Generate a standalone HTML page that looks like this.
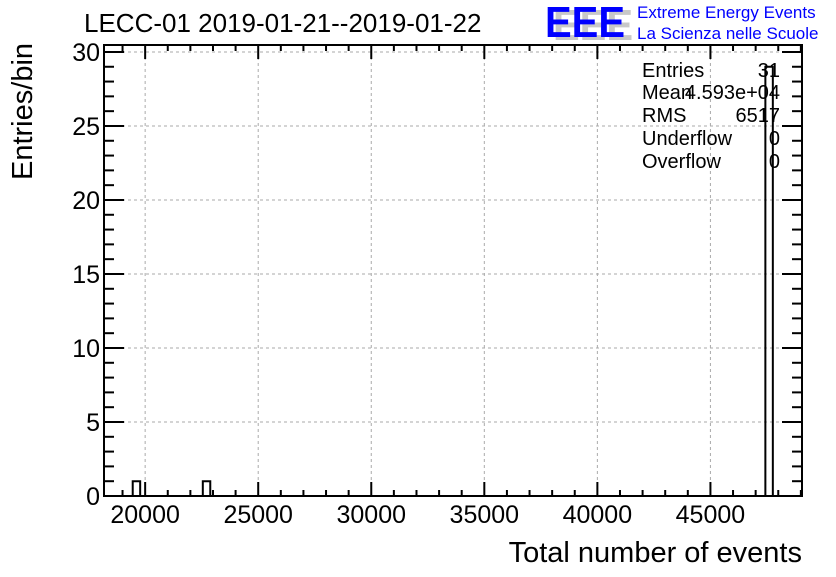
<!DOCTYPE html>
<html><head><meta charset="utf-8"><style>
body{margin:0;background:#fff;}
svg text{font-family:"Liberation Sans",sans-serif;}
</style></head><body>
<svg id="c" width="836" height="572" xmlns="http://www.w3.org/2000/svg">
<rect width="836" height="572" fill="#fff"/>
<text x="84" y="32" font-size="26">LECC-01 2019-01-21--2019-01-22</text>
<g>
<text x="553" y="40" font-size="44" font-weight="bold" fill="#c8c8c8" textLength="80" lengthAdjust="spacingAndGlyphs">EEE</text>
<text x="545" y="37" font-size="44" font-weight="bold" fill="#0000ff" textLength="80" lengthAdjust="spacingAndGlyphs">EEE</text>
<text x="637" y="18" font-size="17" fill="#0000ff">Extreme Energy Events</text>
<text x="637" y="39" font-size="17" fill="#0000ff">La Scienza nelle Scuole</text>
</g>
<g id="grid"></g>
<g id="bars"></g>
<g id="axes"></g>
<g font-size="20">
<text x="642" y="77">Entries</text><text x="780" y="77" text-anchor="end">31</text>
<text x="642" y="99">Mean</text><text x="780" y="99" text-anchor="end">4.593e+04</text>
<text x="642" y="122">RMS</text><text x="780" y="122" text-anchor="end">6517</text>
<text x="642" y="145">Underflow</text><text x="780" y="145" text-anchor="end">0</text>
<text x="642" y="168">Overflow</text><text x="780" y="168" text-anchor="end">0</text>
</g>
<text x="802" y="562" font-size="29" text-anchor="end">Total number of events</text>
<text transform="translate(32,180) rotate(-90)" font-size="29">Entries/bin</text>
</svg>
<script>
const binStarts=[19450,22550,47430];
const binCounts=[1,1,29];
const binWidth=330;
const xTicks=[20000,25000,30000,35000,40000,45000];
const yTicks=[0,5,10,15,20,25,30];
const L=104,R=802,T=45,B=496,xmin=18180,xmax=49050,ymax=30.47;
const X=v=>L+(v-xmin)/(xmax-xmin)*(R-L);
const Y=v=>B-v/ymax*(B-T);
const NS="http://www.w3.org/2000/svg";
function mk(p,t,a){const e=document.createElementNS(NS,t);for(const k in a)e.setAttribute(k,a[k]);p.appendChild(e);return e;}
const g=document.getElementById('grid'),b=document.getElementById('bars'),ax=document.getElementById('axes');
xTicks.forEach(v=>{const l=mk(g,'line',{x1:X(v),x2:X(v),y1:T,y2:B,stroke:'#aaa','stroke-dasharray':'3,3'});

});
yTicks.forEach(v=>{if(v===0)return;const l=mk(g,'line',{x1:L,x2:R,y1:Y(v),y2:Y(v),stroke:'#aaa','stroke-dasharray':'3,3'});

});
binStarts.forEach((s,i)=>{const x0=X(s),x1=X(s+binWidth);
const p=mk(b,'path',{d:`M${x0},${B}V${Y(binCounts[i])}H${x1}V${B}`,fill:'none',stroke:'#000','stroke-width':2});

});
const fr=mk(ax,'rect',{x:L,y:T,width:R-L,height:B-T,fill:'none',stroke:'#000','stroke-width':2});


for(let v=19000;v<xmax;v+=1000){const maj=v%5000===0,h=maj?14:6;
mk(ax,'line',{x1:X(v),x2:X(v),y1:B,y2:B-h,stroke:'#000','stroke-width':2});
mk(ax,'line',{x1:X(v),x2:X(v),y1:T,y2:T+h,stroke:'#000','stroke-width':2});}
xTicks.forEach(v=>{const t=mk(ax,'text',{x:X(v),y:B+27,'font-size':25,'text-anchor':'middle'});t.textContent=v;

});
for(let v=0;v<=30;v++){const maj=v%5===0,w=maj?20:10;
mk(ax,'line',{x1:L,x2:L+w,y1:Y(v),y2:Y(v),stroke:'#000','stroke-width':2});
mk(ax,'line',{x1:R,x2:R-w,y1:Y(v),y2:Y(v),stroke:'#000','stroke-width':2});}
yTicks.forEach(v=>{const t=mk(ax,'text',{x:L-4,y:Y(v)+9,'font-size':25,'text-anchor':'end'});t.textContent=v;

});
</script>
</body></html>
